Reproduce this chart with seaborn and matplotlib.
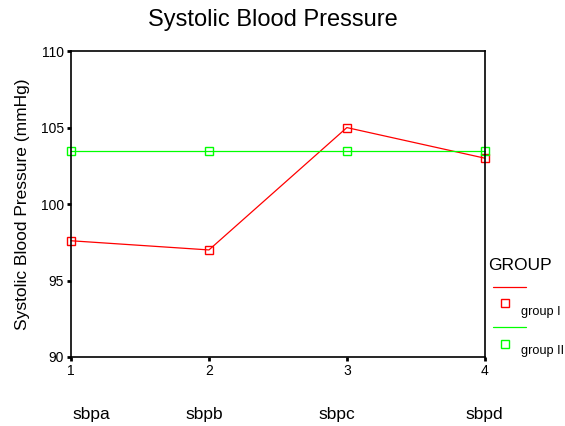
import pandas as pd
import matplotlib.pyplot as plt
from matplotlib.lines import Line2D
import seaborn as sns

occasions = [1, 2, 3, 4]
occasion_names = ["sbpa", "sbpb", "sbpc", "sbpd"]
group_1 = [97.6, 97.0, 105.0, 103.0]
group_2 = [103.5, 103.5, 103.5, 103.5]
group_names = ["group I", "group II"]
group_colors = ["#ff0000", "#00ff00"]

df = pd.DataFrame({
    "occasion": occasions * 2,
    "sbp": group_1 + group_2,
    "group": [group_names[0]] * 4 + [group_names[1]] * 4,
})

sns.set_style("white")
plt.rcParams["font.family"] = ["Liberation Sans", "DejaVu Sans"]
plt.rcParams.update({"text.color": "black", "axes.labelcolor": "black",
                     "xtick.color": "black", "ytick.color": "black"})

fig = plt.figure(figsize=(5.65, 4.26), dpi=100)
ax = fig.add_axes([0.1257, 0.162, 0.7323, 0.718])

sns.lineplot(data=df, x="occasion", y="sbp", hue="group", palette=group_colors,
             marker="s", markersize=6, markerfacecolor="none", markeredgewidth=1,
             linewidth=0.9, legend=False, ax=ax, clip_on=False)
for line in ax.lines:
    line.set_markeredgecolor(line.get_color())

ax.set_xlim(1, 4)
ax.set_ylim(90, 110)
ax.set_xticks(occasions)
ax.set_xticklabels([str(o) for o in occasions])
ax.set_yticks([90, 95, 100, 105, 110])
ax.tick_params(axis="both", direction="out", length=3, width=2, labelsize=10,
               pad=2, color="black", bottom=True, left=True)
for s in ax.spines.values():
    s.set_visible(True)
    s.set_color("black")
    s.set_linewidth(1.2)
ax.set_xlabel("")
ax.set_ylabel("Systolic Blood Pressure (mmHg)", fontsize=12.5, labelpad=8)
fig.text(0.483, 0.953, "Systolic Blood Pressure", fontsize=17, ha="center", va="center")

# occasion names under the axis
name_x = [72, 185, 318, 465]
for nx, name in zip(name_x, occasion_names):
    fig.text(nx / 565, 1 - 415 / 426, name, fontsize=12.5, ha="left", va="center")

# legend block
fig.text(488 / 565, 1 - 266 / 426, "GROUP", fontsize=12.5, ha="left", va="center")
leg_rows = [(287, 303, 312), (327, 344, 351)]
for (ly, my, ty), name, c in zip(leg_rows, group_names, group_colors):
    fig.add_artist(Line2D([493 / 565, 526 / 565], [1 - ly / 426] * 2, color=c,
                          lw=0.9, transform=fig.transFigure))
    fig.add_artist(Line2D([505 / 565], [1 - my / 426], color=c, marker="s",
                          markersize=6, markerfacecolor="none", markeredgewidth=1,
                          lw=0, transform=fig.transFigure))
    fig.text(521 / 565, 1 - ty / 426, name, fontsize=9.2, ha="left", va="center")

fig.savefig("out.png", dpi=100)
